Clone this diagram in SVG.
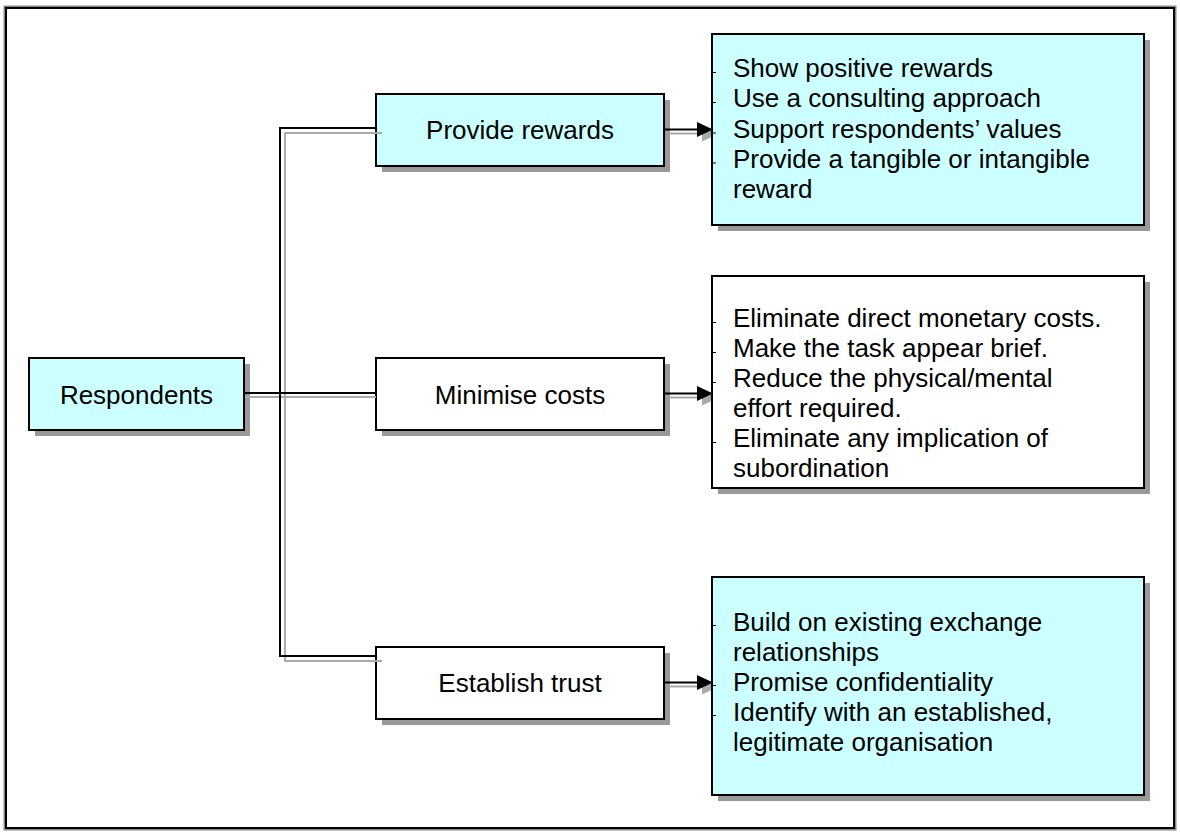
<svg xmlns="http://www.w3.org/2000/svg" width="1180" height="834" viewBox="0 0 1180 834">
  <style>
    .box { stroke: #000; stroke-width: 2; }
    .cyan { fill: #CCFFFF; }
    .white { fill: #FFFFFF; }
    .shadow { fill: #999999; }
    .lbl { font-family: "Liberation Sans", Arial, sans-serif; font-size: 26px; fill: #000; }
    .wire { fill: none; stroke: #000; stroke-width: 2; }
    .wire-shadow { fill: none; stroke: #AAAAAA; stroke-width: 2; }
    .tick { stroke: #000; stroke-width: 1; }
  </style>
  <defs>
    <polygon id="head" points="0,-7.5 16,0 0,7.5"/>
  </defs>

  <rect width="1180" height="834" fill="#FFFFFF"/>
  <!-- outer frame: grey edge under a black rule -->
  <rect x="5" y="7" width="1170" height="822" fill="none" stroke="#888888" stroke-width="3"/>
  <rect x="6" y="8" width="1168" height="820" fill="none" stroke="#000" stroke-width="2"/>

  <!-- left-side boxes -->
  <g id="respondents">
    <rect class="shadow" x="35" y="364" width="215" height="72"/>
    <rect class="box cyan" x="29" y="358" width="215" height="72"/>
    <text class="lbl" x="136.5" y="404" text-anchor="middle">Respondents</text>
  </g>
  <g id="provide-rewards">
    <rect class="shadow" x="382" y="100" width="288" height="72"/>
    <rect class="box cyan" x="376" y="94" width="288" height="72"/>
    <text class="lbl" x="520" y="139" text-anchor="middle">Provide rewards</text>
  </g>
  <g id="minimise-costs">
    <rect class="shadow" x="382" y="364" width="288" height="72"/>
    <rect class="box white" x="376" y="358" width="288" height="72"/>
    <text class="lbl" x="520" y="404" text-anchor="middle">Minimise costs</text>
  </g>
  <g id="establish-trust">
    <rect class="shadow" x="382" y="653" width="288" height="72"/>
    <rect class="box white" x="376" y="647" width="288" height="72"/>
    <text class="lbl" x="520" y="692" text-anchor="middle">Establish trust</text>
  </g>

  <!-- connectors -->
  <g id="connectors">
    <path class="wire-shadow" d="M382,133 H285 V661 H382 M245,397 H376"/>
    <path class="wire-shadow" d="M669,133.5 H702 M669,397.5 H702 M669,686.5 H702"/>
    <use href="#head" x="702" y="134" fill="#AAAAAA"/>
    <use href="#head" x="702" y="398" fill="#AAAAAA"/>
    <use href="#head" x="702" y="687" fill="#AAAAAA"/>
    <path class="wire" d="M376,128 H280 V656 H376 M244,393 H376"/>
    <path class="wire" d="M664,129.5 H700 M664,393.5 H700 M664,682.5 H700"/>
    <use href="#head" x="697" y="129.5"/>
    <use href="#head" x="697" y="393.5"/>
    <use href="#head" x="697" y="682.5"/>
  </g>

  <!-- detail boxes -->
  <g id="reward-details">
    <rect class="shadow" x="718" y="40" width="432" height="191"/>
    <rect class="box cyan" x="712" y="34" width="432" height="191"/>
    <path class="tick" d="M713,72.5 h3 M713,102.5 h3 M713,133 h3 M713,163 h3"/>
    <text class="lbl" x="733" y="77">Show positive rewards</text>
    <text class="lbl" x="733" y="107">Use a consulting approach</text>
    <text class="lbl" x="733" y="138">Support respondents’ values</text>
    <text class="lbl" x="733" y="168">Provide a tangible or intangible</text>
    <text class="lbl" x="733" y="198">reward</text>
  </g>
  <g id="cost-details">
    <rect class="shadow" x="718" y="282" width="432" height="212"/>
    <rect class="box white" x="712" y="276" width="432" height="212"/>
    <path class="tick" d="M713,322.5 h3 M713,352.5 h3 M713,382.5 h3 M713,442.5 h3"/>
    <text class="lbl" x="733" y="327">Eliminate direct monetary costs.</text>
    <text class="lbl" x="733" y="357">Make the task appear brief.</text>
    <text class="lbl" x="733" y="387">Reduce the physical/mental</text>
    <text class="lbl" x="733" y="417">effort required.</text>
    <text class="lbl" x="733" y="447">Eliminate any implication of</text>
    <text class="lbl" x="733" y="477">subordination</text>
  </g>
  <g id="trust-details">
    <rect class="shadow" x="718" y="583" width="432" height="218"/>
    <rect class="box cyan" x="712" y="577" width="432" height="218"/>
    <path class="tick" d="M713,625.5 h3 M713,685.5 h3 M713,715.5 h3"/>
    <text class="lbl" x="733" y="631">Build on existing exchange</text>
    <text class="lbl" x="733" y="661">relationships</text>
    <text class="lbl" x="733" y="691">Promise confidentiality</text>
    <text class="lbl" x="733" y="721">Identify with an established,</text>
    <text class="lbl" x="733" y="751">legitimate organisation</text>
  </g>
</svg>
